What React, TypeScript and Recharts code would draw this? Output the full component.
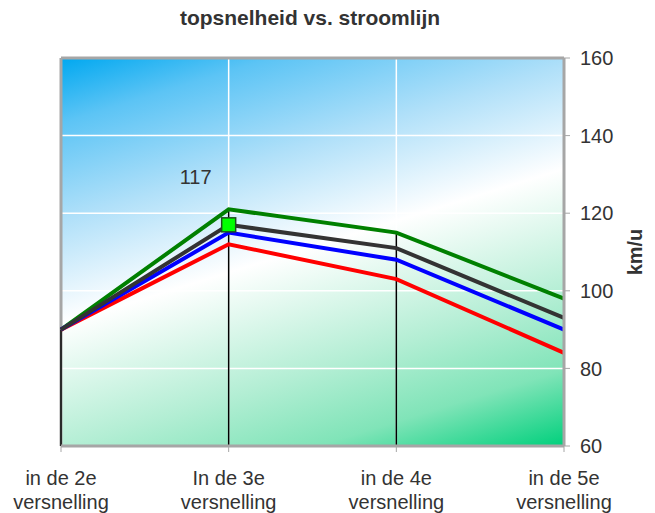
import React from 'react';
import {
  CartesianGrid,
  Line,
  LineChart,
  ReferenceLine,
  XAxis,
  YAxis,
} from 'recharts';

const categories = [
  'in de 2e versnelling',
  'In de 3e versnelling',
  'in de 4e versnelling',
  'in de 5e versnelling',
];
const greenSeries = [90, 121, 115, 98];
const greySeries = [90, 117, 111, 93];
const blueSeries = [90, 115, 108, 90];
const redSeries = [90, 112, 103, 84];
const yTicks = [60, 80, 100, 120, 140, 160];

const data = categories.map((name, i) => ({
  name,
  green: greenSeries[i],
  grey: greySeries[i],
  blue: blueSeries[i],
  red: redSeries[i],
}));

const FONT = '"Liberation Sans", Arial, sans-serif';
const TEXT = '#333333';
const BORDER = '#a6a6a6';

function XTick(props: any) {
  const { x, y, payload } = props;
  const words = String(payload.value).split(' ');
  const first = words.slice(0, 3).join(' ');
  const second = words.slice(3).join(' ');
  return (
    <g>
      <text x={x} y={y} textAnchor="middle" fontFamily={FONT} fontSize={20} fill={TEXT}>
        <tspan x={x} dy={31}>{first}</tspan>
        <tspan x={x} dy={24}>{second}</tspan>
      </text>
    </g>
  );
}

function MarkedDot(props: any) {
  const { cx, cy, index, value } = props;
  if (index !== 1) return <g key={`d${index}`} />;
  return (
    <g key={`d${index}`}>
      <rect x={cx - 7} y={cy - 7} width={14} height={14} fill="#00ff00" stroke="#1e4d1e" strokeWidth={1.5} />
      <text x={cx - 33} y={cy - 41} textAnchor="middle" fontFamily={FONT} fontSize={20} fill={TEXT}>
        {value}
      </text>
    </g>
  );
}

export default function App() {
  return (
    <div style={{ position: 'absolute', left: 0, top: 0, width: 655, height: 513, background: '#fff', overflow: 'hidden' }}>
      <div
        style={{
          position: 'absolute',
          left: 0,
          width: 620,
          top: 5,
          textAlign: 'center',
          fontFamily: FONT,
          fontWeight: 'bold',
          fontSize: 21,
          lineHeight: '26px',
          color: TEXT,
        }}
      >
        topsnelheid vs. stroomlijn
      </div>
      <LineChart width={655} height={513} data={data} margin={{ top: 58, right: 0, bottom: 7, left: 61 }}>
        <defs>
          <linearGradient id="bg" x1="0" y1="0" x2="0.483" y2="1.207">
            <stop offset="0" stopColor="#00a8f0" />
            <stop offset="0.12" stopColor="#5cc4f5" />
            <stop offset="0.3" stopColor="#b0e0f9" />
            <stop offset="0.49" stopColor="#ffffff" />
            <stop offset="0.72" stopColor="#b3eed4" />
            <stop offset="0.86" stopColor="#80e4b8" />
            <stop offset="1" stopColor="#00d07c" />
          </linearGradient>
        </defs>
        <CartesianGrid stroke="#ffffff" strokeWidth={1.5} fill="url(#bg)" fillOpacity={1} />
        <XAxis
          dataKey="name"
          tick={<XTick />}
          tickLine={{ stroke: BORDER }}
          tickSize={6}
          axisLine={{ stroke: BORDER, strokeWidth: 3 }}
          height={60}
          interval={0}
        />
        <YAxis
          orientation="right"
          domain={[60, 160]}
          ticks={yTicks}
          width={91}
          tickSize={6}
          tickMargin={10}
          tickLine={{ stroke: BORDER }}
          axisLine={{ stroke: BORDER, strokeWidth: 3 }}
          tick={{ fontFamily: FONT, fontSize: 20, fill: TEXT }}
          label={({ viewBox }: any) => (
            <text
              x={viewBox.x + 78}
              y={viewBox.y + viewBox.height / 2}
              transform={`rotate(-90 ${viewBox.x + 78} ${viewBox.y + viewBox.height / 2})`}
              textAnchor="middle"
              fontFamily={FONT}
              fontWeight="bold"
              fontSize={20}
              fill={TEXT}
            >
              km/u
            </text>
          )}
        />
        <ReferenceLine y={160} stroke={BORDER} strokeWidth={3} />
        <ReferenceLine x={categories[0]} stroke={BORDER} strokeWidth={3} />
        {categories.map((c, i) => (
          <ReferenceLine
            key={c}
            segment={[
              { x: c, y: 60 },
              { x: c, y: greenSeries[i] },
            ]}
            stroke="#000000"
            strokeWidth={1.5}
          />
        ))}
        <Line dataKey="green" stroke="#008000" strokeWidth={4} dot={false} isAnimationActive={false} />
        <Line dataKey="red" stroke="#ff0000" strokeWidth={4} dot={false} isAnimationActive={false} />
        <Line dataKey="blue" stroke="#0000ff" strokeWidth={4} dot={false} isAnimationActive={false} />
        <Line dataKey="grey" stroke="#333333" strokeWidth={4} dot={<MarkedDot />} isAnimationActive={false} />
      </LineChart>
    </div>
  );
}
